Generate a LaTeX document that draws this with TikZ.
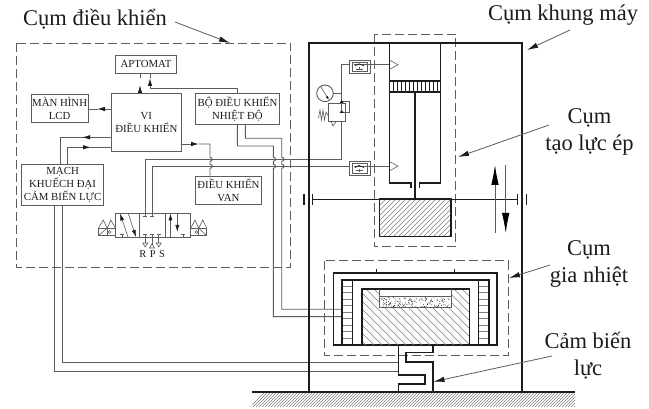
\documentclass[tikz,border=0pt]{standalone}
\usepackage{fontspec}
\setmainfont{Liberation Serif}
\usetikzlibrary{arrows.meta,calc}
\definecolor{ink}{HTML}{1c1c1c}
\definecolor{thinl}{HTML}{5c5c5c}
\definecolor{hatchc}{HTML}{808080}
\tikzset{
  box/.style={draw=thinl,line width=0.9pt,anchor=north west,inner sep=0pt,align=center,text=ink,font=\fontsize{10.8}{13}\selectfont},
  wire/.style={draw=thinl,line width=0.9pt},
  flow/.style={wire,-{Latex[length=8pt,width=4.5pt,color=ink]}},
  thick1/.style={draw=ink,line width=1.6pt},
  thick2/.style={draw=ink,line width=2.3pt},
  dashbox/.style={draw=thinl,line width=0.9pt,dash pattern=on 9pt off 4pt},
  hatchl/.style={draw=hatchc,line width=0.5pt},
  fine/.style={draw=thinl,line width=0.6pt},
  vhead/.style={{Latex[length=7pt,width=4pt,color=ink]}-},
  vtail/.style={-{Latex[length=7pt,width=4pt,color=ink]}},
  callout/.style={draw=thinl,line width=0.8pt,-{Latex[length=11pt,width=5.5pt,color=ink]}},
  lab/.style={text=ink,font=\fontsize{22.5}{27}\selectfont,align=center,inner sep=0pt},
  port/.style={font=\fontsize{10.5}{12}\selectfont,text=ink,inner sep=0pt},
  bigarrow/.style={draw=thinl,line width=0.8pt,-{Latex[length=20pt,width=7.5pt,color=black]}}
}
\begin{document}
\begin{tikzpicture}[x=1pt,y=-1pt]
\useasboundingbox (0,0) rectangle (649,409);
\fill[white] (0,0) rectangle (649,409);

% ---- dashed groups
\draw[dashbox] (16.7,43) rectangle (290.7,267.7);
\draw[dashbox] (374,34) rectangle (455.7,246.7);
\draw[dashbox] (324,260.7) rectangle (508.3,355);
\coordinate (dctl) at (230,43);
\coordinate (dcyl) at (458,157);
\coordinate (dheat) at (509,278);

% ---- control boxes
\node[box,minimum width=61pt,minimum height=18pt] (apto) at (115,55) {APTOMAT};
\node[box,minimum width=57pt,minimum height=28pt] (lcd) at (30.7,94) {MÀN HÌNH\\LCD};
\node[box,minimum width=69.7pt,minimum height=57.7pt] (vi) at (111,93.3) {VI\\ĐIỀU KHIỂN};
\node[box,minimum width=84.6pt,minimum height=30.4pt] (bo) at (194.7,93.3) {BỘ ĐIỀU KHIỂN\\NHIỆT ĐỘ};
\node[box,minimum width=82.3pt,minimum height=41.3pt] (mach) at (21,163.7) {MẠCH\\KHUẾCH ĐẠI\\CẢM BIẾN LỰC};
\node[box,minimum width=66.6pt,minimum height=28.3pt] (van) at (194.7,175.7) {ĐIỀU KHIỂN\\VAN};

% ---- control wires
\draw[flow] (vi.north -| 140,0) -- (140,85);
\draw[wire] (140,73) -- (140,78);
\draw[flow] (bo.north -| 237.3,0) -- (237.3,88) -- (150,88) -- (150,78);
\draw[wire] (150,73) -- (150,78);
\draw[flow] (vi.west |- 0,109) -- (97,109);
\draw[wire] (98,109) -- (lcd.east |- 0,109);
\draw[flow] (mach.north -| 67.3,0) -- (67.3,147.3) -- (91,147.3);
\draw[wire] (90,147.3) -- (vi.west |- 0,147.3);
\draw[wire] (mach.north -| 60.7,0) -- (60.7,137.3) -- (90,137.3);
\draw[flow] (vi.west |- 0,137.3) -- (82,137.3);
\draw[flow] (vi.east |- 0,144) -- (199,144);
\draw[wire] (199,144) -- (210,144) -- (210,157.3)
   .. controls (213,157.3) and (213,161.3) .. (210,161.3) -- (210,164.3)
   .. controls (213,164.3) and (213,168.3) .. (210,168.3) -- (van.north -| 210,0);
% temperature controller to heater
\draw[wire] (bo.south -| 237.3,0) -- (237.3,146) -- (273.3,146) -- (273.3,157.3)
   .. controls (276.3,157.3) and (276.3,161.3) .. (273.3,161.3) -- (273.3,164.3)
   .. controls (276.3,164.3) and (276.3,168.3) .. (273.3,168.3) -- (273.3,316.7) -- (341.7,316.7);
\draw[wire] (bo.south -| 245.3,0) -- (245.3,138.3) -- (281.7,138.3) -- (281.7,157.3)
   .. controls (284.7,157.3) and (284.7,161.3) .. (281.7,161.3) -- (281.7,164.3)
   .. controls (284.7,164.3) and (284.7,168.3) .. (281.7,168.3) -- (281.7,309.3) -- (341.7,309.3);
% load cell signal
\draw[wire] (mach.south -| 54,0) -- (54,371) -- (398,371);
\draw[wire] (mach.south -| 62.7,0) -- (62.7,362.3) -- (398,362.3);

% ---- valve
\draw[wire] (145.3,212.7) -- (145.3,159.5) -- (341.7,159.5) -- (341.7,64.7) -- (389,64.7);
\draw[wire] (152,212.7) -- (152,166.2) -- (389,166.2);
\draw[wire] (115.7,213) rectangle (190.7,237.3);
\draw[wire] (139.3,213) -- (139.3,237.3) (165.7,213) -- (165.7,237.3);
\draw[fine,vhead] (120,213.5) -- (128,237);
\draw[fine,vtail] (128.3,213.5) -- (136,237);
\draw[fine,vhead] (170.5,213.5) -- (170.5,237);
\draw[fine,vtail] (177.3,213.5) -- (177.3,232);
\draw[fine] (122.3,237) -- (122.3,234.5) (120.3,234.5) -- (124.3,234.5);
\draw[fine] (183,237) -- (183,234.5) (181,234.5) -- (185,234.5);
\draw[fine] (145.3,213) -- (145.3,216) (143.3,216) -- (147.3,216);
\draw[fine] (152,213) -- (152,216) (150,216) -- (154,216);
\foreach \px in {145.3,152,158.7}{\draw[fine] (\px,237.3) -- (\px,234) (\px-2,234) -- (\px+2,234);}
\draw[fine] (145.3,237.3) -- (145.3,243) (158.7,237.3) -- (158.7,243) (152,237.3) -- (152,245);
\draw[fine] (142.8,243) -- (147.8,243) -- (145.3,247) -- cycle;
\draw[fine] (156.2,243) -- (161.2,243) -- (158.7,247) -- cycle;
\draw[fine] (149.5,248) -- (154.5,248) -- (152,244) -- cycle;
\node[port] (pr) at (143,254) {R};
\node[port] (pp) at (152.7,254) {P};
\node[port] (ps) at (162,254) {S};
% solenoids
\draw[wire] (98.3,228.3) rectangle (115.7,235.7) (107,228.3) -- (107,235.7);
\draw[fine] (98.3,228.3) -- (103.3,220) -- (107.3,228.3) -- (110.7,220) -- (115.7,228.3);
\draw[fine] (98.3,235.7) -- (107,228.3);
\draw[fine] (109.5,232) circle (1.5pt);
\draw[wire] (190.7,228.3) rectangle (206.7,235.7) (198.7,228.3) -- (198.7,235.7);
\draw[fine] (190.7,228.3) -- (195,220) -- (198.7,228.3) -- (202.7,220) -- (206.7,228.3);
\draw[fine] (206.7,235.7) -- (198.7,228.3);
\draw[fine] (196.5,232) circle (1.5pt);

% ---- machine frame and ground
\begin{scope}
\clip (252,392) rectangle (575,407);
\foreach \i in {250,253,...,590}{\draw[hatchl,draw=gray] (\i,407) -- (\i+15,392);}
\end{scope}
\draw[thick1] (252,391.7) -- (575,391.7);
\draw[thick2] (309,391.7) -- (309,43.3) -- (522.3,43.3) -- (522.3,391.7);

% ---- cylinder
\draw[thick1] (410.7,188) -- (410.7,183.3) -- (389.3,183.3) -- (389.3,43.3);
\draw[thick1] (419.3,188) -- (419.3,183.3) -- (440.3,183.3) -- (440.3,43.3);
\draw[thick1] (389.3,81) -- (440.3,81) (389.3,92.3) -- (440.3,92.3);
\foreach \i in {393,397,...,437}{\draw[draw=ink,line width=0.9pt] (\i,81) -- (\i,92.3);}
\draw[thick1] (414.7,92.3) -- (414.7,199.3);
\draw[fine] (389.3,60) -- (398,64.7) -- (389.3,69.5);
\draw[fine] (389.3,161.5) -- (398,166.2) -- (389.3,171);
% beam
\draw[draw=ink,line width=1.3pt] (312.7,199.3) -- (517.7,199.3);
\draw[draw=ink,line width=1.1pt] (312.7,194) -- (312.7,205) (517.7,194) -- (517.7,205);
\draw[draw=ink,line width=1.1pt] (304,194) -- (304,205) (526.5,194) -- (526.5,205);
% press block
\begin{scope}
\clip (379.3,199.3) rectangle (451,236.7);
\foreach \i in {340,345,...,450}{\draw[hatchl] (\i,240) -- (\i+45,195);}
\end{scope}
\draw[thick1] (379.3,199.3) rectangle (451,236.7);
% motion arrows
\draw[bigarrow] (495,233) -- (495,165);
\draw[bigarrow] (505.7,165) -- (505.7,233);

% ---- flow controls, gauge, relief valve
\foreach \yy in {60,161.7}{
  \fill[white] (349.3,\yy) rectangle (370,\yy+13.8);
  \draw[wire] (349.3,\yy) rectangle (370,\yy+13.8);
  \draw[fine] (352,\yy+2) rectangle (367.3,\yy+11.5);
  \draw[fine] (353.7,\yy+4.7) -- (389,\yy+4.7);
  \draw[draw=ink,line width=0.7pt] (355,\yy+5.8) -- (359,\yy+3.8) -- (364,\yy+5.8);
  \draw[fine] (356,\yy+9) -- (363,\yy+9) (359.5,\yy+7) -- (359.5,\yy+10);
}
\draw[wire] (325,93.3) circle (8.3pt);
\draw[fine,-{Latex[length=4pt,width=2.5pt,color=ink]}] (321,87) -- (329,100);
\draw[wire] (333.3,93.3) -- (341.7,93.3);
\fill[white] (328.5,103.5) rectangle (345.8,121.7);
\draw[wire] (328.5,103.5) rectangle (345.8,121.7);
\draw[fine] (341.7,101) -- (349.3,101) -- (349.3,112) -- (341.7,112);
\fill[ink] (341.7,100) -- (343.7,103) -- (339.7,103) -- cycle;
\fill[ink] (341.7,110) -- (343.7,113) -- (339.7,113) -- cycle;
\draw[fine] (341.7,103.5) -- (341.7,110);
\draw[fine] (328.5,116) -- (326,112) -- (324.5,120) -- (323,110) -- (321.5,120) -- (320,110) -- (318.5,118);
\draw[fine] (331,121.7) -- (333,126) -- (336,121.7);

% ---- heater
\draw[thick1] (333.3,345) -- (333.3,273.3) -- (496.7,273.3) -- (496.7,345) -- cycle;
\draw[thick1] (341.7,345) -- (341.7,280) -- (489.3,280) -- (489.3,345);
\draw[draw=ink,line width=1pt] (376.7,269) -- (376.7,273.3) (454,269) -- (454,273.3);
\foreach \cx in {341.7,478.3}{
  \foreach \i in {286,292.5,...,340}{\draw[hatchl,line width=0.7pt] (\cx,\i) -- (\cx+10.8,\i);}
  \draw[thick1] (\cx,280) rectangle (\cx+10.8,345);
}
\begin{scope}
\clip (361.7,289) rectangle (469.3,345);
\foreach \i in {290,298,...,470}{\draw[hatchl] (\i,285) -- (\i+65,350);}
\end{scope}
\fill[white] (379.3,289) rectangle (451.7,307.7);
\draw[thick1] (361.7,345) -- (361.7,289) -- (469.3,289) -- (469.3,345);
\draw[fine,line width=0.8pt] (379.3,289) -- (379.3,307.7) -- (451.7,307.7) -- (451.7,289);
\draw[fine] (379.3,296.7) -- (451.7,296.7);
\pgfmathsetseed{7}
\foreach \i in {1,...,150}{
  \pgfmathsetmacro{\dx}{381+rnd*69}
  \pgfmathsetmacro{\dy}{297.5+rnd*9.5}
  \fill[ink] (\dx,\dy) circle (0.45pt);
}

% ---- load cell
\draw[thick1] (398.3,345) -- (398.3,375) -- (425,375) -- (425,384) -- (398.3,384) -- (398.3,391.7);
\draw[thick1] (432.7,391.7) -- (432.7,361.7) -- (406,361.7) -- (406,352.7) -- (432.7,352.7) -- (432.7,345);
\coordinate (cell) at (433.5,381.7);

% ---- labels and callouts
\node[lab,anchor=center] (lctl) at (95,19) {Cụm điều khiển};
\node[lab,anchor=center] (lframe) at (563,15) {Cụm khung máy};
\node[lab,anchor=center] (lcyl) at (589.5,132) {Cụm\\tạo lực ép};
\node[lab,anchor=center] (lheat) at (589,263.5) {Cụm\\gia nhiệt};
\node[lab,anchor=center] (lcell) at (588,355.5) {Cảm biến\\lực};
\coordinate (dframe) at (527,50);
\draw[callout] (175,22) -- (dctl);
\draw[callout] (570,30) -- (dframe);
\draw[callout] (549,125) -- (dcyl);
\draw[callout] (550,265) -- (dheat);
\draw[callout] (552,356) -- (cell);
\end{tikzpicture}
\end{document}
